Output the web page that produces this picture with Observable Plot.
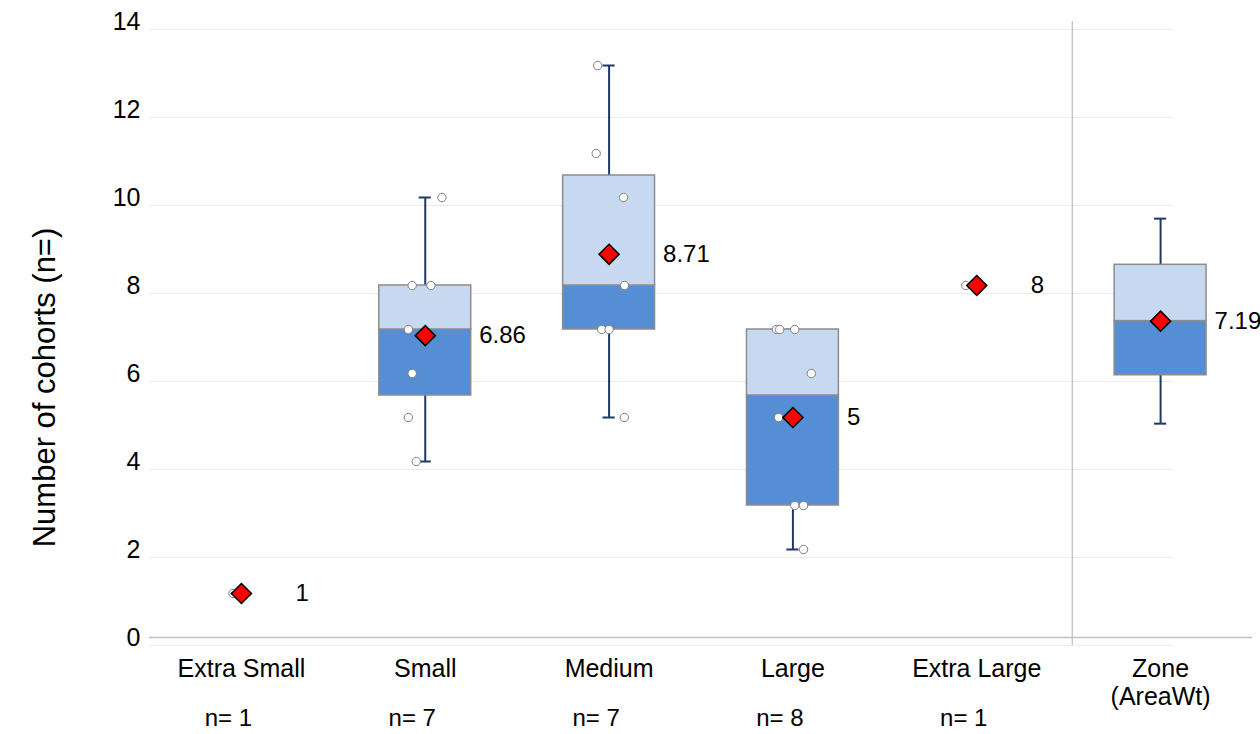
<!DOCTYPE html>
<html>
<head>
<meta charset="utf-8">
<script src="https://cdn.jsdelivr.net/npm/d3@7"></script>
<script src="https://cdn.jsdelivr.net/npm/@observablehq/plot@0.6"></script>
<style>
  html, body { margin: 0; padding: 0; background: #ffffff; }
  #chart { width: 1260px; height: 734px; overflow: hidden; }
</style>
</head>
<body>
<div id="chart"></div>
<script>
// ---- data ----
const categories = ["Extra Small", "Small", "Medium", "Large", "Extra Large", "Zone\n(AreaWt)"];
const nCounts = [1, 7, 7, 8, 1];
const meanValues = [1, 6.86, 8.71, 5, 8, 7.19];

const boxCategory = [1, 2, 3, 5];
const boxQ1 = [5.5, 7, 3, 5.96];
const boxMedian = [7, 8, 5.5, 7.19];
const boxQ3 = [8, 10.5, 7, 8.47];
const boxLow = [4, 5, 2, 4.86];
const boxHigh = [10, 13, 7, 9.52];

const pointCategory = [0,
  1, 1, 1, 1, 1, 1, 1,
  2, 2, 2, 2, 2, 2, 2,
  3, 3, 3, 3, 3, 3, 3, 3,
  4];
const pointValue = [1,
  10, 8, 8, 7, 6, 5, 4,
  13, 11, 10, 8, 7, 7, 5,
  7, 7, 7, 6, 5, 3, 3, 2,
  8];
const pointJitter = [-0.046,
  0.091, -0.071, 0.031, -0.092, -0.071, -0.092, -0.049,
  -0.062, -0.07, 0.079, 0.084, -0.04, 0.0, 0.083,
  -0.089, -0.072, 0.01, 0.10, -0.078, 0.01, 0.058, 0.058,
  -0.06];

const yTicks = [0, 2, 4, 6, 8, 10, 12, 14];

// ---- derived tables ----
const boxes = boxCategory.map((c, i) => ({
  c, q1: boxQ1[i], med: boxMedian[i], q3: boxQ3[i], lo: boxLow[i], hi: boxHigh[i]
}));
const points = pointValue.map((v, i) => ({c: pointCategory[i] + pointJitter[i], v}));
const means = meanValues.map((v, i) => ({c: i, v, label: String(v)}));
const nLabels = nCounts.map((n, i) => ({c: i, label: "n= " + n}));

const font = "'Liberation Sans', Arial, Helvetica, sans-serif";
const half = 0.25, cap = 0.033;
const whiskerColor = "#1f3864";

const chart = Plot.plot({
  width: 1260,
  height: 734,
  marginLeft: 149,
  marginRight: 8,
  marginTop: 21,
  marginBottom: 97,
  style: {fontFamily: font, fontSize: "24px", color: "#000", background: "#fff", overflow: "visible"},
  x: {type: "linear", domain: [-0.5, 5.5]},
  y: {type: "linear", domain: [0, 14]},
  marks: [
    // faint gridlines
    Plot.ruleY(yTicks, {x1: -0.5, x2: 5.07, dy: 8, stroke: "#ececec", strokeWidth: 1}),
    // x axis line
    Plot.ruleY([0], {stroke: "#bfbfbf", strokeWidth: 1.5}),
    // separator before Zone
    Plot.ruleX([4.52], {y1: 14, y2: 0, insetBottom: -8, stroke: "#c8c8c8", strokeWidth: 1.5}),
    // whiskers
    Plot.ruleX(boxes, {x: "c", y1: "q3", y2: "hi", stroke: whiskerColor, strokeWidth: 2}),
    Plot.ruleX(boxes, {x: "c", y1: "lo", y2: "q1", stroke: whiskerColor, strokeWidth: 2}),
    Plot.ruleY(boxes, {y: "hi", x1: d => d.c - cap, x2: d => d.c + cap, stroke: whiskerColor, strokeWidth: 2}),
    Plot.ruleY(boxes, {y: "lo", x1: d => d.c - cap, x2: d => d.c + cap, stroke: whiskerColor, strokeWidth: 2}),
    // boxes
    Plot.rect(boxes, {x1: d => d.c - half, x2: d => d.c + half, y1: "q1", y2: "med", fill: "#558ed5", stroke: "#8c8c8c", strokeWidth: 1.5}),
    Plot.rect(boxes, {x1: d => d.c - half, x2: d => d.c + half, y1: "med", y2: "q3", fill: "#c6d9f0", stroke: "#8c8c8c", strokeWidth: 1.5}),
    // individual points
    Plot.dot(points, {x: "c", y: "v", r: 4.2, fill: "#ffffff", stroke: "#7f7f7f", strokeWidth: 1}),
    // means
    Plot.dot(means, {x: "c", y: "v", symbol: "diamond2", r: 9, fill: "#ff0000", stroke: "#000", strokeWidth: 1.6}),
    Plot.text(means, {x: "c", y: "v", text: "label", dx: 54, textAnchor: "start", fontSize: 24, fill: "#000"}),
    // axes
    Plot.axisY({ticks: yTicks, tickSize: 0, tickPadding: 9, fontSize: 25, label: null}),
    Plot.axisX({ticks: [0, 1, 2, 3, 4, 5], tickFormat: i => categories[i], tickSize: 0, tickPadding: 20, fontSize: 25, label: null, lineHeight: 1.12}),
    // n= labels row
    Plot.text(nLabels, {x: "c", text: "label", frameAnchor: "bottom", dy: 88, dx: -13, fontSize: 24, fill: "#000"}),
    // y axis title
    Plot.text(["Number of cohorts (n=)"], {frameAnchor: "left", textAnchor: "middle", rotate: -90, dx: -104, dy: 58, fontSize: 31, fill: "#000"})
  ]
});
document.getElementById("chart").appendChild(chart);
</script>
</body>
</html>
